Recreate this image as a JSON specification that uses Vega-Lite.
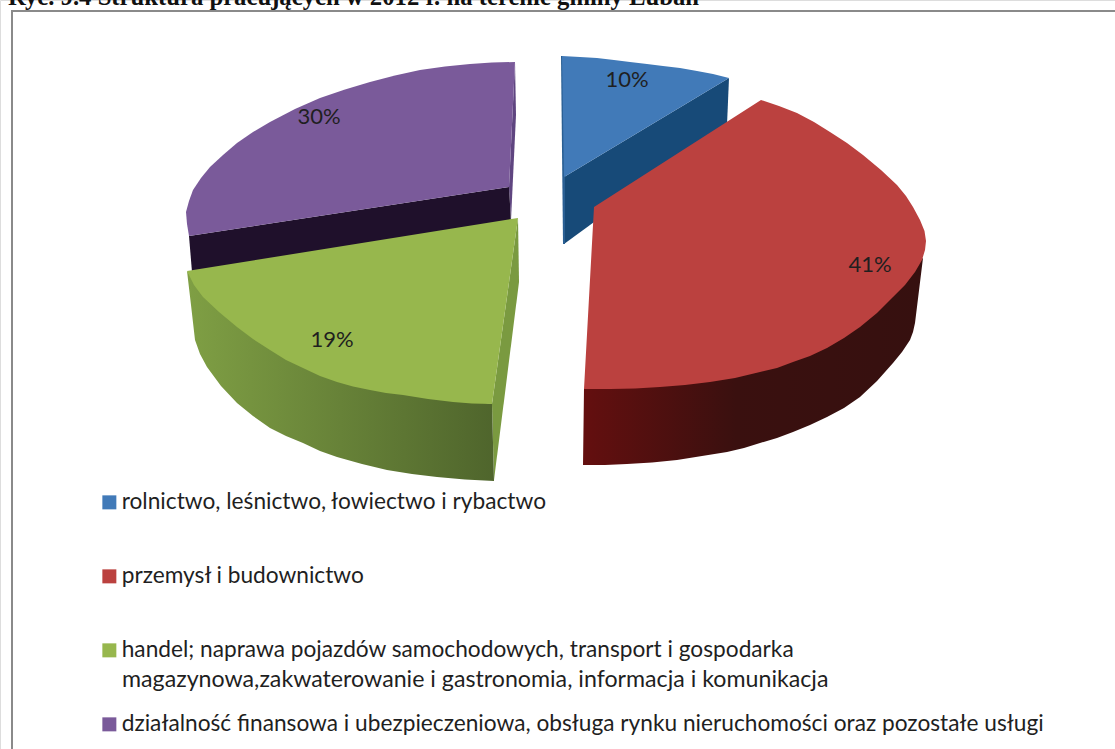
{"$schema":"https://vega.github.io/schema/vega-lite/v6.json","width":1115,"height":749,"padding":0,"autosize":{"type":"none"},"background":"white","datasets":{
"sectors":[
{"id":"a","category":"rolnictwo, leśnictwo, łowiectwo i rybactwo","share":0.10,"x":627,"y":80},
{"id":"b","category":"przemysł i budownictwo","share":0.41,"x":870,"y":265},
{"id":"c","category":"handel; naprawa pojazdów samochodowych, transport i gospodarka","share":0.19,"x":332,"y":340},
{"id":"d","category":"działalność finansowa i ubezpieczeniowa, obsługa rynku nieruchomości oraz pozostałe usługi","share":0.30,"x":319,"y":117}],
"tops":[
{"id":"d","i":1,"x":515,"y":62},{"id":"d","i":2,"x":492,"y":62.5},{"id":"d","i":3,"x":470,"y":64},{"id":"d","i":4,"x":445,"y":66.5},{"id":"d","i":5,"x":420,"y":70},{"id":"d","i":6,"x":395,"y":75.5},{"id":"d","i":7,"x":370,"y":82},{"id":"d","i":8,"x":345,"y":89.5},{"id":"d","i":9,"x":320,"y":98},{"id":"d","i":10,"x":295,"y":109},{"id":"d","i":11,"x":270,"y":122},{"id":"d","i":12,"x":253,"y":132},{"id":"d","i":13,"x":237,"y":143},{"id":"d","i":14,"x":223,"y":155},{"id":"d","i":15,"x":210,"y":167},{"id":"d","i":16,"x":201,"y":178},{"id":"d","i":17,"x":193,"y":190},{"id":"d","i":18,"x":189,"y":201},{"id":"d","i":19,"x":186,"y":212},{"id":"d","i":20,"x":187,"y":224},{"id":"d","i":21,"x":189,"y":236},{"id":"d","i":22,"x":509,"y":187},
{"id":"a","i":1,"x":562,"y":56},{"id":"a","i":2,"x":580,"y":57},{"id":"a","i":3,"x":597,"y":58},{"id":"a","i":4,"x":614,"y":60},{"id":"a","i":5,"x":630,"y":62},{"id":"a","i":6,"x":647,"y":64},{"id":"a","i":7,"x":663,"y":66},{"id":"a","i":8,"x":680,"y":68},{"id":"a","i":9,"x":697,"y":71},{"id":"a","i":10,"x":713,"y":74},{"id":"a","i":11,"x":729,"y":78},{"id":"a","i":12,"x":564,"y":177},
{"id":"b","i":1,"x":761,"y":100},{"id":"b","i":2,"x":779,"y":106},{"id":"b","i":3,"x":797,"y":113},{"id":"b","i":4,"x":814,"y":122},{"id":"b","i":5,"x":830,"y":132},{"id":"b","i":6,"x":847,"y":143},{"id":"b","i":7,"x":863,"y":155},{"id":"b","i":8,"x":881,"y":170},{"id":"b","i":9,"x":897,"y":185},{"id":"b","i":10,"x":906,"y":196},{"id":"b","i":11,"x":913,"y":207},{"id":"b","i":12,"x":920,"y":220},{"id":"b","i":13,"x":924.5,"y":231},{"id":"b","i":14,"x":926,"y":241},{"id":"b","i":15,"x":925,"y":250},{"id":"b","i":16,"x":922,"y":260},{"id":"b","i":17,"x":915,"y":272},{"id":"b","i":18,"x":905,"y":285},{"id":"b","i":19,"x":893,"y":297},{"id":"b","i":20,"x":877,"y":313},{"id":"b","i":21,"x":860,"y":327},{"id":"b","i":22,"x":844,"y":338},{"id":"b","i":23,"x":827,"y":348},{"id":"b","i":24,"x":810,"y":356},{"id":"b","i":25,"x":793,"y":362},{"id":"b","i":26,"x":777,"y":368},{"id":"b","i":27,"x":760,"y":372},{"id":"b","i":28,"x":735,"y":378},{"id":"b","i":29,"x":710,"y":382},{"id":"b","i":30,"x":685,"y":385},{"id":"b","i":31,"x":660,"y":387},{"id":"b","i":32,"x":635,"y":388.5},{"id":"b","i":33,"x":610,"y":389},{"id":"b","i":34,"x":584,"y":389},{"id":"b","i":35,"x":594,"y":207},
{"id":"c","i":1,"x":187,"y":271},{"id":"c","i":2,"x":194,"y":285},{"id":"c","i":3,"x":203,"y":297},{"id":"c","i":4,"x":219,"y":312},{"id":"c","i":5,"x":237,"y":327},{"id":"c","i":6,"x":253,"y":339},{"id":"c","i":7,"x":270,"y":350},{"id":"c","i":8,"x":286,"y":360},{"id":"c","i":9,"x":303,"y":368},{"id":"c","i":10,"x":320,"y":376},{"id":"c","i":11,"x":337,"y":382},{"id":"c","i":12,"x":353,"y":386.5},{"id":"c","i":13,"x":370,"y":390},{"id":"c","i":14,"x":386,"y":393},{"id":"c","i":15,"x":403,"y":395},{"id":"c","i":16,"x":428,"y":399},{"id":"c","i":17,"x":453,"y":402},{"id":"c","i":18,"x":472,"y":403.5},{"id":"c","i":19,"x":492,"y":404},{"id":"c","i":20,"x":518,"y":218}
],
"purpleSliver":[{"i":1,"x":515,"y":62},{"i":2,"x":516,"y":115},{"i":3,"x":511,"y":220},{"i":4,"x":509,"y":187}],
"purpleFront":[{"i":1,"x":189,"y":236},{"i":2,"x":509,"y":187},{"i":3,"x":511,"y":222},{"i":4,"x":192,"y":272}],
"blueSide":[{"i":1,"x":729,"y":78},{"i":2,"x":727,"y":125},{"i":3,"x":564,"y":244},{"i":4,"x":564,"y":177}],
"blueEdge":[{"i":1,"x":561,"y":56},{"i":2,"x":563,"y":56},{"i":3,"x":565,"y":177},{"i":4,"x":565,"y":244},{"i":5,"x":563,"y":244}],
"redSide":[{"i":1,"x":923,"y":258},{"i":2,"x":915,"y":323},{"i":3,"x":913,"y":332},{"i":4,"x":910,"y":340},{"i":5,"x":902,"y":352},{"i":6,"x":893,"y":363},{"i":7,"x":877,"y":381},{"i":8,"x":860,"y":397},{"i":9,"x":844,"y":408},{"i":10,"x":827,"y":417},{"i":11,"x":810,"y":425},{"i":12,"x":793,"y":432},{"i":13,"x":777,"y":438},{"i":14,"x":760,"y":443},{"i":15,"x":744,"y":448},{"i":16,"x":727,"y":452},{"i":17,"x":702,"y":456},{"i":18,"x":677,"y":460},{"i":19,"x":652,"y":462.5},{"i":20,"x":627,"y":464},{"i":21,"x":605,"y":465},{"i":22,"x":583,"y":465},{"i":23,"x":584,"y":389},{"i":24,"x":760,"y":370}],
"greenRight":[{"i":1,"x":518,"y":218},{"i":2,"x":519,"y":282},{"i":3,"x":494,"y":480},{"i":4,"x":492,"y":404}],
"greenFront":[{"i":1,"x":187,"y":271},{"i":2,"x":191,"y":305},{"i":3,"x":195,"y":340},{"i":4,"x":200,"y":354},{"i":5,"x":207,"y":367},{"i":6,"x":221,"y":386},{"i":7,"x":237,"y":403},{"i":8,"x":253,"y":416},{"i":9,"x":270,"y":428},{"i":10,"x":286,"y":436},{"i":11,"x":303,"y":443},{"i":12,"x":320,"y":451},{"i":13,"x":337,"y":457},{"i":14,"x":362,"y":464},{"i":15,"x":387,"y":470},{"i":16,"x":412,"y":474},{"i":17,"x":437,"y":477},{"i":18,"x":465,"y":479.5},{"i":19,"x":494,"y":481},{"i":20,"x":492,"y":404},{"i":21,"x":370,"y":385},{"i":22,"x":270,"y":345},{"i":23,"x":203,"y":292}],
"frame":[{"i":1,"x":12,"y":749},{"i":2,"x":12,"y":11},{"i":3,"x":1115,"y":11}],
"legendContinuation":[{"text":"magazynowa,zakwaterowanie i gastronomia, informacja i komunikacja","x":122,"y":680}],
"title":[{"text":"Ryc. 9.4 Struktura pracujących w 2012 r. na terenie gminy Lubań","x":8,"y":5}]
},
"encoding":{"x":{"field":"x","type":"quantitative","scale":{"domain":[0,1115],"nice":false,"zero":false},"axis":null},"y":{"field":"y","type":"quantitative","scale":{"domain":[0,749],"reverse":true,"nice":false,"zero":false},"axis":null}},
"layer":[
{"data":{"name":"frame"},"mark":{"type":"line","stroke":"#8a8a8a","strokeWidth":2},"encoding":{"order":{"field":"i"}}},
{"data":{"name":"purpleSliver"},"mark":{"type":"line","fill":"#5f4580","strokeOpacity":0},"encoding":{"order":{"field":"i"}}},
{"data":{"name":"purpleFront"},"mark":{"type":"line","fill":"#1f102b","strokeOpacity":0},"encoding":{"order":{"field":"i"}}},
{"data":{"name":"blueSide"},"mark":{"type":"line","fill":"#174a78","strokeOpacity":0},"encoding":{"order":{"field":"i"}}},
{"data":{"name":"blueEdge"},"mark":{"type":"line","fill":"#2a5f93","strokeOpacity":0},"encoding":{"order":{"field":"i"}}},
{"data":{"name":"redSide"},"mark":{"type":"line","strokeOpacity":0,"fill":{"gradient":"linear","x1":0,"y1":0,"x2":1,"y2":0,"stops":[{"offset":0,"color":"#640f0f"},{"offset":0.45,"color":"#3a100f"},{"offset":1,"color":"#36100f"}]}},"encoding":{"order":{"field":"i"}}},
{"data":{"name":"greenRight"},"mark":{"type":"line","fill":"#7a9a40","strokeOpacity":0},"encoding":{"order":{"field":"i"}}},
{"data":{"name":"greenFront"},"mark":{"type":"line","strokeOpacity":0,"fill":{"gradient":"linear","x1":0,"y1":0,"x2":1,"y2":0,"stops":[{"offset":0,"color":"#7f9f44"},{"offset":1,"color":"#4f652c"}]}},"encoding":{"order":{"field":"i"}}},
{"data":{"name":"tops"},"transform":[{"lookup":"id","from":{"data":{"name":"sectors"},"key":"id","fields":["category"]}}],"mark":{"type":"line","strokeOpacity":0},"encoding":{"order":{"field":"i"},"fill":{"field":"category","type":"nominal","title":null,"scale":{"domain":["rolnictwo, leśnictwo, łowiectwo i rybactwo","przemysł i budownictwo","handel; naprawa pojazdów samochodowych, transport i gospodarka","działalność finansowa i ubezpieczeniowa, obsługa rynku nieruchomości oraz pozostałe usługi"],"range":["#417ab8","#bb413f","#97b74d","#7a5a9a"]},"legend":{"orient":"none","legendX":98,"legendY":491,"symbolType":"square","symbolSize":196,"symbolStrokeWidth":0,"symbolOpacity":1,"labelFont":"Lato","labelFontSize":22.7,"labelColor":"#1f1f1f","labelLimit":1100,"rowPadding":50,"labelOffset":1}}}},
{"data":{"name":"sectors"},"mark":{"type":"text","font":"Lato","fontSize":22,"color":"#1f1f1f"},"encoding":{"text":{"field":"share","type":"quantitative","format":".0%"}}},
{"data":{"name":"legendContinuation"},"mark":{"type":"text","font":"Lato","fontSize":23.2,"color":"#1f1f1f","align":"left"},"encoding":{"text":{"field":"text"}}},
{"data":{"name":"title"},"mark":{"type":"text","font":"Liberation Serif","fontWeight":"bold","fontSize":24.7,"color":"#111","align":"left","baseline":"alphabetic"},"encoding":{"text":{"field":"text"}}}
]}
